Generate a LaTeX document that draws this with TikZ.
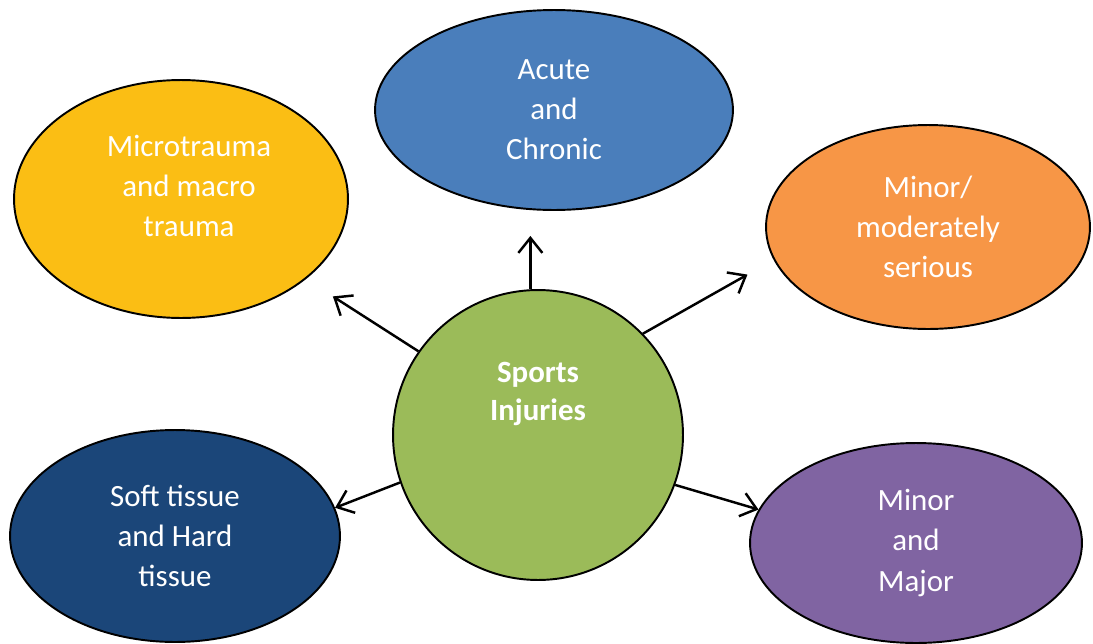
\documentclass[tikz,border=0pt]{standalone}
\usepackage{fontspec}
\setmainfont{Carlito}
\usepackage{tikz}
\usetikzlibrary{arrows.meta,shapes.geometric}
\definecolor{cyellow}{HTML}{FBBE14}
\definecolor{cblue}{HTML}{4A7EBB}
\definecolor{corange}{HTML}{F79646}
\definecolor{cgreen}{HTML}{9BBB59}
\definecolor{cnavy}{HTML}{1B4679}
\definecolor{cpurple}{HTML}{8064A2}
\tikzstyle{bubble}=[ellipse, draw=black, line width=1.1pt, text=white,
  align=center, inner sep=0pt, font=\fontsize{17.6}{22.8}\selectfont]
\tikzstyle{hub}=[bubble, circle, fill=cgreen, minimum size=5.8cm]
\tikzstyle{hubtext}=[text=white, align=center,
  font=\fontsize{17.6}{21.6}\selectfont\bfseries]
\tikzstyle{line}=[draw, line width=1.4pt,
  -{Straight Barb[length=3mm,width=4.8mm]}]

\begin{document}
\begin{tikzpicture}[x=0.02cm,y=-0.02cm]
  \useasboundingbox (0,0) rectangle (1093,643);

  % Outer ellipses
  \path (181,199) node (micro) [bubble, fill=cyellow, minimum width=6.68cm,
    minimum height=4.76cm] {};
  \path ([xshift=0.16cm,yshift=0.26cm]micro.center) node (microtext)
    [text=white, align=center, font=\fontsize{17.6}{22.8}\selectfont]
    {Microtrauma\\and macro\\trauma};
  \path (554,110) node (acute) [bubble, fill=cblue, minimum width=7.16cm,
    minimum height=4.0cm] {Acute\\and\\Chronic};
  \path (928,227) node (minor) [bubble, fill=corange, minimum width=6.48cm,
    minimum height=4.08cm] {Minor/\\moderately\\serious};
  \path (175,536) node (tissue) [bubble, fill=cnavy, minimum width=6.6cm,
    minimum height=4.24cm] {Soft tissue\\and Hard\\tissue};
  \path (916,543) node (major) [bubble, fill=cpurple, minimum width=6.64cm,
    minimum height=4.0cm] {Minor\\and\\Major};

  % Centre circle
  \path (538,435) node (center) [hub] {};
  \path ([yshift=0.82cm]center.center) node (centertext) [hubtext]
    {Sports\\Injuries};

  % Arrows out of the centre
  \path [line, shorten >=0.5cm] (center.93) -- (center.93 |- acute.south);
  \path [line, shorten >=0.64cm] (center.145) -- (micro);
  \path [line, shorten >=0.6cm] (center.44) -- (minor.192);
  \path [line] (center.199) -- (tissue.10);
  \path [line] (center.340) -- (major.168);

\end{tikzpicture}
\end{document}
